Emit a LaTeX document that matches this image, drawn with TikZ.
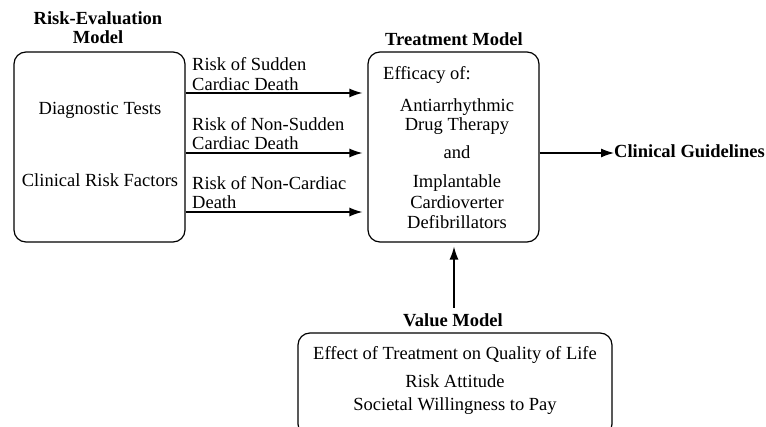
\documentclass[tikz,border=0pt]{standalone}
\usepackage{fontspec}
\setmainfont{Liberation Serif}[UprightFont=*, BoldFont=* Bold]
\newfontfamily\tms{Liberation Serif}
\usetikzlibrary{arrows.meta}
\begin{document}
\begin{tikzpicture}[x=1pt,y=-1pt,
  box/.style={draw, line width=1.2pt, rounded corners=12pt, inner sep=0pt},
  txt/.style={font=\tms\fontsize{18.5}{20}\selectfont, inner sep=0pt},
  ttl/.style={font=\tms\fontsize{18.5}{20}\selectfont\bfseries, inner sep=0pt},
  arr/.style={line width=1.2pt, -{Latex[length=13pt,width=9pt]}}]
\clip (0,0) rectangle (766,427);
\useasboundingbox (0,0) rectangle (766,427);
% boxes
\node[box, minimum width=171pt, minimum height=190pt] (rem) at (99.5,147) {};
\node[box, minimum width=171pt, minimum height=190pt] (tm) at (453.5,147) {};
\node[box, minimum width=314pt, minimum height=103pt] (vm) at (455,384.5) {};
% titles
\node[ttl, anchor=base] (t1a) at (98,25) {Risk-Evaluation};
\node[ttl, anchor=base] (t1b) at (98,44) {Model};
\node[ttl, anchor=base] (t2) at (454,46) {Treatment Model};
\node[ttl, anchor=base] (t3) at (453,327) {Value Model};
\node[ttl, anchor=base west] (cg) at (614,158) {Clinical Guidelines};
% left box text
\node[txt, anchor=base] (dt) at (100,115) {Diagnostic Tests};
\node[txt, anchor=base] (crf) at (100,187) {Clinical Risk Factors};
% arrow labels
\node[txt, anchor=base west] (l1a) at (192,71) {Risk of Sudden};
\node[txt, anchor=base west] (l1b) at (192,91) {Cardiac Death};
\node[txt, anchor=base west] (l2a) at (192,131) {Risk of Non-Sudden};
\node[txt, anchor=base west] (l2b) at (192,150) {Cardiac Death};
\node[txt, anchor=base west] (l3a) at (192,190) {Risk of Non-Cardiac};
\node[txt, anchor=base west] (l3b) at (192,209) {Death};
% treatment text
\node[txt, anchor=base west] (eff) at (383,80) {Efficacy of:};
\node[txt, anchor=base] (a1) at (457,112) {Antiarrhythmic};
\node[txt, anchor=base] (a2) at (457,131) {Drug Therapy};
\node[txt, anchor=base] (a3) at (457,159) {and};
\node[txt, anchor=base] (a4) at (457,188) {Implantable};
\node[txt, anchor=base] (a5) at (457,209) {Cardioverter};
\node[txt, anchor=base] (a6) at (457,229) {Defibrillators};
% value text
\node[txt, anchor=base] (v1) at (455,360) {Effect of Treatment on Quality of Life};
\node[txt, anchor=base] (v2) at (455,388) {Risk Attitude};
\node[txt, anchor=base] (v3) at (455,411) {Societal Willingness to Pay};
% connectors
\coordinate (y1) at (0,93);
\coordinate (y2) at (0,153);
\coordinate (y3) at (0,212);
\draw[arr, shorten >=5pt] (rem.east |- y1) -- (tm.west |- y1);
\draw[arr, shorten >=5pt] (rem.east |- y2) -- (tm.west |- y2);
\draw[arr, shorten >=5pt] (rem.east |- y3) -- (tm.west |- y3);
\draw[arr] (tm.east |- y2) -- (cg.west |- y2);
\coordinate (vs) at (454,308);
\draw[arr, shorten >=4pt] (vs) -- (tm.south -| vs);
\end{tikzpicture}
\end{document}
